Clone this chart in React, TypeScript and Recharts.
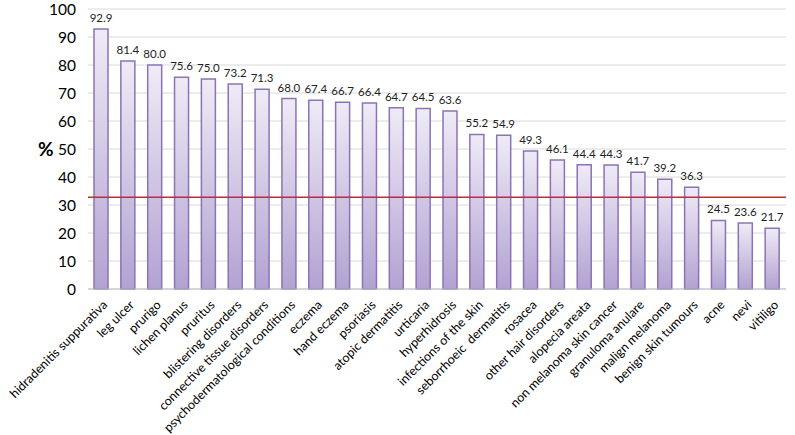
import {
  BarChart,
  Bar,
  XAxis,
  YAxis,
  CartesianGrid,
  ReferenceLine,
  LabelList,
} from 'recharts';

const conditions = [
  'hidradenitis suppurativa',
  'leg ulcer',
  'prurigo',
  'lichen planus',
  'pruritus',
  'blistering disorders',
  'connective tissue disorders',
  'psychodermatological conditions',
  'eczema',
  'hand eczema',
  'psoriasis',
  'atopic dermatitis',
  'urticaria',
  'hyperhidrosis',
  'infections of the skin',
  'seborrhoeic  dermatitis',
  'rosacea',
  'other hair disorders',
  'alopecia areata',
  'non melanoma skin cancer',
  'granuloma anulare',
  'malign melanoma',
  'benign skin tumours',
  'acne',
  'nevi',
  'vitiligo',
];

const percents = [
  92.9, 81.4, 80.0, 75.6, 75.0, 73.2, 71.3, 68.0, 67.4, 66.7, 66.4, 64.7, 64.5,
  63.6, 55.2, 54.9, 49.3, 46.1, 44.4, 44.3, 41.7, 39.2, 36.3, 24.5, 23.6, 21.7,
];

const yTicks = [0, 10, 20, 30, 40, 50, 60, 70, 80, 90, 100];
const average = 32.8;

const data = conditions.map((name, i) => ({ name, value: percents[i] }));

const font = 'Lato, "Open Sans", sans-serif';

const RotatedTick = (props: any) => {
  const { x, y, payload } = props;
  return (
    <g transform={`translate(${x + 1},${y + 3})`}>
      <text
        x={0}
        y={0}
        dy={8}
        textAnchor="end"
        transform="rotate(-45)"
        fill="#000"
        fontSize={12.5}
        fontFamily={font}
        style={{ whiteSpace: 'pre' }}
      >
        {payload.value}
      </text>
    </g>
  );
};

export default function App() {
  return (
    <div style={{ position: 'absolute', left: 0, top: 0, background: '#fff' }}>
      <BarChart
        width={795}
        height={435}
        data={data}
        margin={{ top: 9, right: 9, left: 0, bottom: 0 }}
      >
        <defs>
          <linearGradient id="barFill" x1="0" y1="0" x2="0" y2="1">
            <stop offset="0%" stopColor="#efebf6" />
            <stop offset="100%" stopColor="#b2a2d2" />
          </linearGradient>
        </defs>
        <CartesianGrid vertical={false} stroke="#d9d9d9" />
        <XAxis
          dataKey="name"
          interval={0}
          tickLine={false}
          axisLine={{ stroke: '#bfbfbf' }}
          tick={<RotatedTick />}
          height={146}
        />
        <YAxis
          domain={[0, 100]}
          ticks={yTicks}
          interval={0}
          width={88}
          axisLine={false}
          tickLine={false}
          tickMargin={6}
          tick={{ fill: '#000', fontSize: 15.5, fontFamily: font }}
          label={{
            value: '%',
            position: 'insideLeft',
            offset: 38,
            style: { fill: '#000', fontSize: 19, fontWeight: 'bold', fontFamily: font },
          }}
        />
        <Bar
          dataKey="value"
          barSize={14}
          fill="url(#barFill)"
          stroke="#8a74b4"
          strokeWidth={1.5}
          isAnimationActive={false}
        >
          <LabelList
            dataKey="value"
            position="top"
            offset={7}
            formatter={(v: any) => Number(v).toFixed(1)}
            style={{ fill: '#222', fontSize: 11.5, fontFamily: font }}
          />
        </Bar>
        <ReferenceLine y={average} stroke="#e0201b" strokeWidth={1.5} />
      </BarChart>
    </div>
  );
}
